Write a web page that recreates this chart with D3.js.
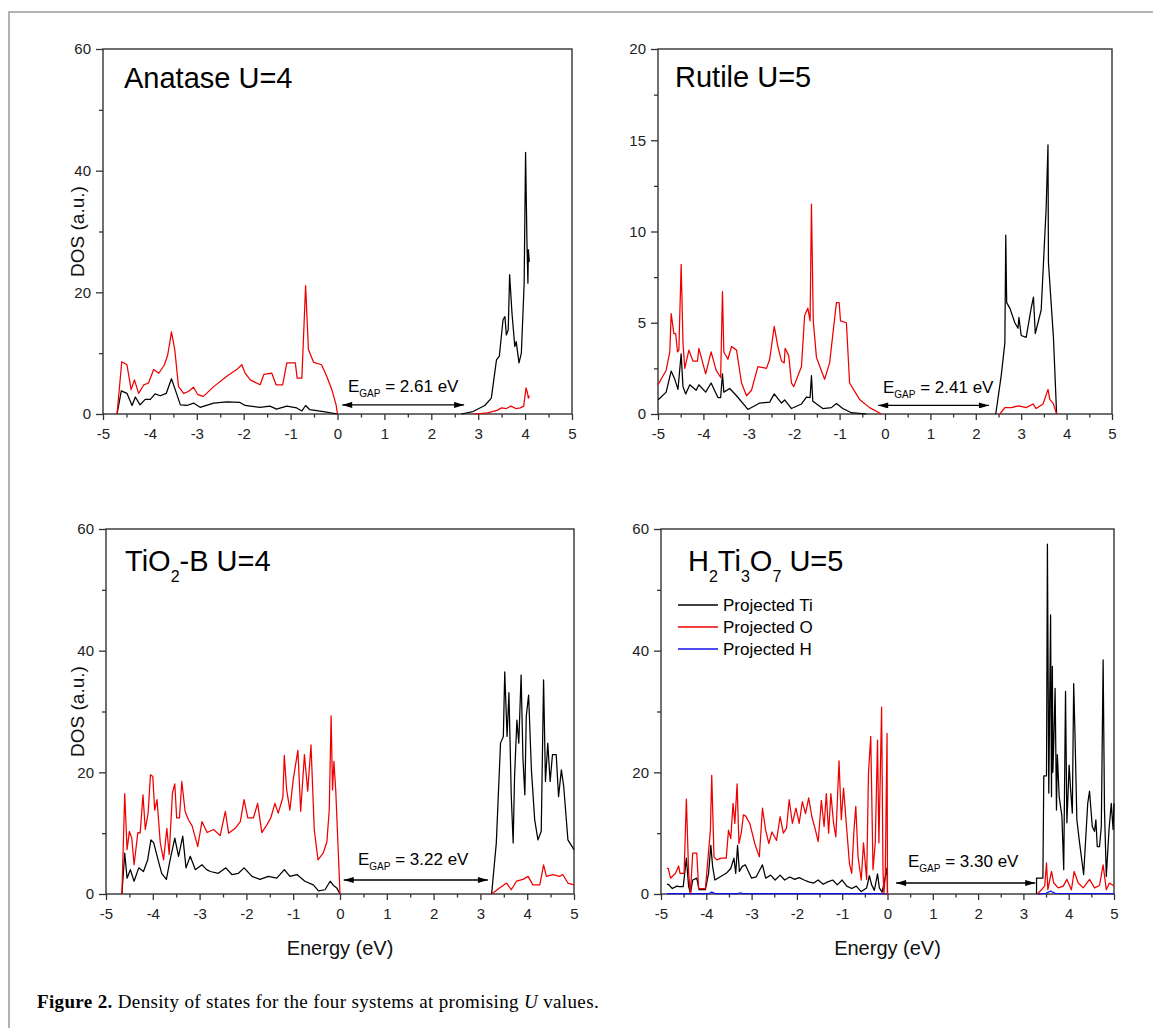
<!DOCTYPE html>
<html><head><meta charset="utf-8">
<script src="https://cdn.jsdelivr.net/npm/d3@7/dist/d3.min.js"></script>
<style>body{margin:0;background:#fff}svg{display:block}</style>
</head><body>
<svg id="c" width="1153" height="1028"></svg>
<script>
// ---------------- DATA ----------------
const xTicks = [-5,-4,-3,-2,-1,0,1,2,3,4,5];
const xMinor = [-4.5,-3.5,-2.5,-1.5,-0.5,0.5,1.5,2.5,3.5,4.5];
const yTicks60 = [0,20,40,60], yMinor60 = [10,30,50];
const yTicks20 = [0,5,10,15,20], yMinor20 = [2.5,7.5,12.5,17.5];

const panelTitles = [
  [["Anatase U=4",0]],
  [["Rutile U=5",0]],
  [["TiO",0],["2",1],["-B U=4",0]],
  [["H",0],["2",1],["Ti",0],["3",1],["O",0],["7",1],[" U=5",0]]
];
const gapValues = ["2.61","2.41","3.22","3.30"];
// arrow [from, to, at DOS]
const gapArrows = [[0.1,2.7,1.5],[-0.15,2.29,0.47],[0.08,3.16,2.3],[0.19,3.26,1.8]];
const yMaxes = [60,20,60,60];
const legendLabels = ["Projected Ti","Projected O","Projected H"];

// Anatase U=4
const anataseTiVB = [[-4.70,0],[-4.61,3.8],[-4.49,3.4],[-4.38,1.4],[-4.31,2.8],[-4.21,1.5],[-4.10,2.4],[-3.99,2.4],[-3.89,3.3],[-3.78,3.0],[-3.65,3.4],[-3.54,5.8],[-3.46,4.0],[-3.35,1.5],[-3.21,1.4],[-3.07,1.8],[-2.93,1.1],[-2.64,1.8],[-2.36,2.0],[-2.08,1.9],[-1.97,1.4],[-1.65,1.1],[-1.44,1.3],[-1.30,0.8],[-1.08,1.3],[-0.87,1.0],[-0.76,0.5],[-0.68,1.4],[-0.59,0.7],[-0.30,0.4],[0,0]];
const anataseOVB = [[-4.70,0],[-4.60,8.6],[-4.49,8.1],[-4.40,4.0],[-4.33,5.6],[-4.24,3.4],[-4.13,4.8],[-4.03,5.1],[-3.92,7.3],[-3.81,6.7],[-3.69,8.1],[-3.62,9.7],[-3.54,13.5],[-3.47,10.6],[-3.39,4.5],[-3.28,3.4],[-3.18,3.7],[-3.07,4.4],[-2.98,3.2],[-2.86,2.9],[-2.64,4.5],[-2.36,6.2],[-2.15,7.3],[-2.04,8.1],[-1.97,6.7],[-1.86,5.6],[-1.65,4.8],[-1.57,6.5],[-1.40,6.7],[-1.31,4.8],[-1.17,4.8],[-1.08,8.4],[-0.90,8.4],[-0.86,5.9],[-0.76,5.9],[-0.68,21.1],[-0.62,10.6],[-0.51,8.5],[-0.34,8.1],[-0.23,6.2],[-0.12,4.0],[-0.03,1.5],[0,0]];
const anataseTiCB = [[2.64,0],[2.89,0.4],[3.14,1.4],[3.28,2.6],[3.39,8.9],[3.45,9.5],[3.53,15.5],[3.57,16.0],[3.60,13.0],[3.64,13.8],[3.67,22.9],[3.72,16.6],[3.78,11.1],[3.81,11.9],[3.87,8.4],[3.92,10.0],[3.98,21.5],[4.01,43.0],[4.04,28.0],[4.06,21.5],[4.07,27.0],[4.09,25.0]];
const anataseOCB = [[2.90,0],[3.20,0.2],[3.40,0.6],[3.50,1.0],[3.60,0.9],[3.70,1.3],[3.80,0.9],[3.90,1.0],[3.97,1.3],[4.02,4.3],[4.05,3.5],[4.07,2.6],[4.09,3.0]];

// Rutile U=5
const rutileTiVB = [[-5.0,0.77],[-4.82,1.2],[-4.71,2.35],[-4.63,1.9],[-4.56,1.35],[-4.49,3.3],[-4.45,1.5],[-4.39,1.1],[-4.30,1.6],[-4.16,1.3],[-4.10,1.6],[-3.95,1.2],[-3.83,1.7],[-3.68,0.9],[-3.62,0.9],[-3.58,2.2],[-3.55,1.2],[-3.42,1.4],[-3.27,1.0],[-3.02,0.25],[-2.76,0.6],[-2.54,0.65],[-2.44,1.1],[-2.28,0.6],[-2.21,0.77],[-2.06,0.3],[-1.84,0.55],[-1.73,0.93],[-1.65,0.9],[-1.62,2.1],[-1.59,0.7],[-1.37,0.3],[-1.18,0.35],[-1.07,0.57],[-0.93,0.3],[-0.74,0.07],[-0.41,0]];
const rutileOVB = [[-5.0,1.6],[-4.82,2.4],[-4.74,3.4],[-4.71,5.5],[-4.65,4.4],[-4.61,4.4],[-4.57,3.4],[-4.54,3.5],[-4.49,8.2],[-4.45,3.9],[-4.41,2.5],[-4.32,3.5],[-4.23,2.9],[-4.13,2.9],[-4.10,3.6],[-3.95,2.2],[-3.83,3.4],[-3.72,2.4],[-3.62,2.0],[-3.58,6.7],[-3.55,3.4],[-3.46,3.0],[-3.38,3.7],[-3.27,3.5],[-3.16,1.7],[-3.05,1.0],[-2.94,1.3],[-2.80,2.6],[-2.61,2.5],[-2.54,3.0],[-2.44,4.8],[-2.36,3.7],[-2.28,2.9],[-2.22,2.8],[-2.20,3.6],[-2.12,3.2],[-2.06,1.7],[-2.01,1.5],[-1.84,2.6],[-1.77,5.4],[-1.70,5.8],[-1.65,5.1],[-1.62,11.5],[-1.58,5.1],[-1.51,3.1],[-1.33,1.9],[-1.22,2.8],[-1.07,6.1],[-1.01,6.1],[-0.98,5.1],[-0.85,5.0],[-0.78,1.7],[-0.56,0.8],[-0.34,0.35],[-0.08,0]];
const rutileTiCB = [[2.44,0],[2.56,2.1],[2.64,3.9],[2.66,9.8],[2.68,6.1],[2.75,5.8],[2.86,5.0],[2.93,4.7],[2.95,5.3],[3.00,4.3],[3.11,4.2],[3.22,5.8],[3.27,6.4],[3.31,4.4],[3.44,5.7],[3.55,11.3],[3.59,14.75],[3.60,8.3],[3.71,4.2],[3.78,0]];
const rutileOCB = [[2.53,0],[2.64,0.35],[2.78,0.35],[2.95,0.45],[3.11,0.35],[3.26,0.55],[3.33,0.3],[3.48,0.55],[3.59,1.35],[3.63,0.8],[3.71,0.55],[3.78,0]];

// TiO2-B U=4
const tio2bTiVB = [[-4.66,0],[-4.60,6.7],[-4.55,2.6],[-4.48,4.0],[-4.40,2.1],[-4.30,4.3],[-4.20,3.7],[-4.11,5.6],[-4.04,8.9],[-3.98,8.4],[-3.88,5.4],[-3.81,3.4],[-3.71,2.4],[-3.63,5.6],[-3.53,9.2],[-3.45,6.2],[-3.36,9.5],[-3.29,4.3],[-3.20,6.2],[-3.09,4.0],[-2.95,4.8],[-2.85,4.0],[-2.77,3.7],[-2.60,3.4],[-2.44,4.3],[-2.31,3.2],[-2.17,3.4],[-2.05,4.3],[-1.88,2.9],[-1.71,2.4],[-1.53,2.9],[-1.35,2.6],[-1.19,4.0],[-1.07,2.9],[-0.92,3.2],[-0.75,2.1],[-0.57,1.5],[-0.46,0.5],[-0.32,0.7],[-0.21,2.1],[-0.14,1.4],[-0.07,1.0],[0,0]];
const tio2bOVB = [[-4.66,0],[-4.60,16.5],[-4.55,7.3],[-4.50,10.3],[-4.45,9.2],[-4.40,4.8],[-4.32,10.1],[-4.27,10.0],[-4.21,16.3],[-4.16,10.6],[-4.10,13.3],[-4.05,19.6],[-4.00,19.3],[-3.96,13.8],[-3.91,15.5],[-3.84,8.4],[-3.77,5.6],[-3.70,10.8],[-3.65,6.5],[-3.58,16.6],[-3.53,18.1],[-3.49,12.5],[-3.43,12.5],[-3.38,18.5],[-3.31,13.6],[-3.24,12.2],[-3.16,11.2],[-3.04,7.8],[-2.95,11.9],[-2.84,10.1],[-2.70,10.6],[-2.56,9.6],[-2.45,13.6],[-2.38,10.0],[-2.24,10.8],[-2.13,11.9],[-2.05,15.5],[-1.97,12.5],[-1.85,12.5],[-1.76,14.9],[-1.67,10.1],[-1.56,11.4],[-1.48,12.5],[-1.39,14.9],[-1.32,13.3],[-1.22,15.9],[-1.19,22.8],[-1.14,17.1],[-1.07,13.8],[-1.00,18.8],[-0.90,23.6],[-0.84,13.6],[-0.76,22.9],[-0.69,16.9],[-0.62,24.5],[-0.55,10.6],[-0.47,5.6],[-0.36,6.7],[-0.28,8.6],[-0.23,13.8],[-0.19,29.3],[-0.16,17.1],[-0.13,21.8],[-0.09,16.9],[0,0]];
const tio2bTiCB = [[3.24,0],[3.34,8.4],[3.43,24.8],[3.49,25.9],[3.52,36.5],[3.57,25.9],[3.61,33.1],[3.66,16.0],[3.70,8.4],[3.73,19.3],[3.78,28.6],[3.82,24.8],[3.87,36.0],[3.91,22.1],[3.95,16.3],[3.98,29.2],[4.03,32.7],[4.09,20.4],[4.16,12.2],[4.23,8.9],[4.30,10.3],[4.35,35.2],[4.39,18.5],[4.44,24.8],[4.49,18.5],[4.54,22.9],[4.62,22.9],[4.67,16.0],[4.73,20.4],[4.78,17.7],[4.87,8.9],[5.0,7.3]];
const tio2bOCB = [[3.24,0],[3.41,1.0],[3.56,1.8],[3.66,0.7],[3.77,2.1],[3.91,2.4],[4.02,2.9],[4.12,1.5],[4.27,1.5],[4.35,4.8],[4.41,2.9],[4.55,3.2],[4.69,2.9],[4.76,3.2],[4.87,1.8],[5.0,1.5]];

// H2Ti3O7 U=5
const h2tiTiVB = [[-4.87,1.6],[-4.84,1.6],[-4.75,0.9],[-4.65,1.3],[-4.60,1.2],[-4.51,1.2],[-4.44,5.9],[-4.39,1.2],[-4.35,0.1],[-4.30,2.3],[-4.21,2.6],[-4.16,0.7],[-4.02,0.7],[-3.95,3.4],[-3.90,8.0],[-3.86,4.5],[-3.81,2.3],[-3.70,2.8],[-3.56,3.4],[-3.46,4.2],[-3.39,5.9],[-3.35,3.4],[-3.31,8.0],[-3.27,3.7],[-3.21,4.5],[-3.14,4.8],[-3.07,3.7],[-3.00,2.6],[-2.90,2.8],[-2.76,4.8],[-2.69,2.6],[-2.58,3.1],[-2.48,2.3],[-2.37,3.1],[-2.27,2.3],[-2.16,2.8],[-2.05,2.4],[-1.95,2.7],[-1.84,2.3],[-1.74,2.0],[-1.63,1.8],[-1.53,2.3],[-1.42,1.6],[-1.32,2.0],[-1.21,2.3],[-1.11,1.5],[-1.00,2.3],[-0.90,1.3],[-0.79,0.9],[-0.69,1.3],[-0.58,0.4],[-0.46,1.0],[-0.40,3.0],[-0.35,1.5],[-0.29,0.6],[-0.22,3.3],[-0.18,1.0],[-0.12,0.3],[-0.07,2.0],[-0.01,4.3],[0,0]];
const h2tiOVB = [[-4.87,4.2],[-4.84,4.2],[-4.79,2.6],[-4.68,3.4],[-4.61,4.6],[-4.58,3.4],[-4.49,3.4],[-4.44,15.6],[-4.39,3.4],[-4.35,0.1],[-4.30,6.7],[-4.21,6.7],[-4.17,0.9],[-4.02,0.9],[-3.96,6.1],[-3.91,10.5],[-3.88,19.5],[-3.83,6.1],[-3.77,5.6],[-3.67,5.9],[-3.56,5.9],[-3.51,10.5],[-3.46,9.1],[-3.41,14.9],[-3.37,11.6],[-3.32,18.1],[-3.28,8.3],[-3.23,10.0],[-3.18,13.0],[-3.13,12.8],[-3.04,11.6],[-2.93,8.3],[-2.83,6.1],[-2.76,14.1],[-2.69,10.5],[-2.62,8.3],[-2.55,10.2],[-2.45,8.8],[-2.37,12.7],[-2.30,10.0],[-2.23,10.8],[-2.17,15.5],[-2.10,11.6],[-2.02,14.1],[-1.95,11.6],[-1.88,15.2],[-1.81,13.2],[-1.74,15.8],[-1.67,12.7],[-1.60,10.8],[-1.53,8.6],[-1.46,15.4],[-1.40,11.1],[-1.35,16.5],[-1.30,10.0],[-1.25,16.5],[-1.19,11.6],[-1.14,9.4],[-1.07,21.9],[-1.02,12.2],[-0.97,17.4],[-0.91,11.6],[-0.84,5.0],[-0.79,3.4],[-0.74,10.5],[-0.70,14.4],[-0.65,6.1],[-0.58,2.3],[-0.53,8.4],[-0.46,2.4],[-0.42,19.9],[-0.37,25.9],[-0.32,4.0],[-0.27,8.4],[-0.22,25.3],[-0.19,8.4],[-0.16,19.3],[-0.13,30.7],[-0.10,4.0],[-0.08,0],[-0.05,2.9],[-0.01,26.4],[0,0]];
const h2tiHVB = [[-4.87,0.05],[-3.95,0.05],[-3.88,0.3],[-3.80,0.05],[-3.30,0.05],[-3.25,0.2],[-3.20,0.05],[-0.10,0.05],[0,0]];
const h2tiTiCB = [[3.29,0],[3.29,2.6],[3.43,2.6],[3.45,19.4],[3.51,19.4],[3.53,57.5],[3.56,16.6],[3.60,45.9],[3.62,16.0],[3.63,30.0],[3.64,37.4],[3.65,20.0],[3.67,24.8],[3.70,33.8],[3.73,13.8],[3.75,22.9],[3.79,16.0],[3.85,12.8],[3.89,4.0],[3.93,33.3],[3.96,11.7],[4.01,21.2],[4.04,17.4],[4.08,13.3],[4.11,34.6],[4.14,25.9],[4.18,12.2],[4.24,8.4],[4.33,3.2],[4.42,14.9],[4.46,16.9],[4.52,11.1],[4.57,10.3],[4.60,12.2],[4.63,7.8],[4.68,7.8],[4.72,11.1],[4.76,38.5],[4.79,13.8],[4.83,2.9],[4.89,10.6],[4.94,14.9],[4.98,10.6],[5.0,14.9]];
const h2tiOCB = [[3.31,0],[3.47,1.3],[3.51,5.1],[3.54,0.7],[3.62,3.7],[3.67,1.8],[3.77,1.0],[3.88,1.3],[3.96,2.4],[4.06,0.7],[4.12,3.7],[4.21,1.8],[4.32,1.0],[4.46,2.4],[4.57,1.0],[4.68,1.4],[4.76,4.8],[4.83,0.7],[4.90,1.8],[5.0,1.3]];
const h2tiHCB = [[3.31,0],[3.50,0.1],[3.60,0.5],[3.70,0.1],[5.0,0.05]];

// ---------------- LAYOUT / STYLE ----------------
const COL = {Ti:"#000000", O:"#ee0000", H:"#1010ee"};
const FONT = "'Liberation Sans', Arial, sans-serif";
const panels = [
  {box:[103,49,572,414], ticks:yTicks60, minor:yMinor60, title:[124,88], gap:[348,392], ylab:true, xlab:false,
   series:[[anataseTiVB,"Ti"],[anataseTiCB,"Ti"],[anataseOVB,"O"],[anataseOCB,"O"]]},
  {box:[658,49,1112,414], ticks:yTicks20, minor:yMinor20, title:[675,87], gap:[883,393], ylab:false, xlab:false,
   series:[[rutileTiVB,"Ti"],[rutileTiCB,"Ti"],[rutileOVB,"O"],[rutileOCB,"O"]]},
  {box:[106,529,574,894], ticks:yTicks60, minor:yMinor60, title:[125,571], gap:[358,865], ylab:true, xlab:true,
   series:[[tio2bTiVB,"Ti"],[tio2bTiCB,"Ti"],[tio2bOVB,"O"],[tio2bOCB,"O"]]},
  {box:[661,529,1114,894], ticks:yTicks60, minor:yMinor60, title:[688,571], gap:[908,867], ylab:false, xlab:true, legend:true,
   series:[[h2tiHVB,"H"],[h2tiHCB,"H"],[h2tiTiVB,"Ti"],[h2tiTiCB,"Ti"],[h2tiOVB,"O"],[h2tiOCB,"O"]]}
];

const svg = d3.select("#c");
const defs = svg.append("defs");
defs.append("marker").attr("id","ah").attr("viewBox","0 0 10 6").attr("refX",10).attr("refY",3)
  .attr("markerWidth",11).attr("markerHeight",6).attr("markerUnits","userSpaceOnUse").attr("orient","auto-start-reverse")
  .append("path").attr("d","M0,0L10,3L0,6Z").attr("fill","#000");

// figure frame
svg.append("path").attr("d","M9,1028V12H1153").attr("fill","none").attr("stroke","#9a9a9a").attr("stroke-width",1.5);

panels.forEach((p,i)=>{
  const [x0,y0,x1,y1] = p.box;
  const x = d3.scaleLinear().domain([-5,5]).range([x0,x1]);
  const y = d3.scaleLinear().domain([0,yMaxes[i]]).range([y1,y0]);
  const g = svg.append("g");

  const styleAxis = sel => {
    sel.select(".domain").remove();
    sel.selectAll(".tick line").attr("stroke","#333").attr("stroke-width",1.3);
    sel.selectAll(".tick text").attr("font-family",FONT).attr("font-size",15).attr("fill","#222");
  };
  g.append("g").attr("transform",`translate(0,${y1})`)
    .call(d3.axisBottom(x).tickValues(xTicks).tickFormat(d=>String(d)).tickSize(6).tickSizeOuter(0).tickPadding(8)).call(styleAxis);
  g.append("g").attr("transform",`translate(0,${y1})`)
    .call(d3.axisBottom(x).tickValues(xMinor).tickFormat("").tickSize(3.5).tickSizeOuter(0)).call(styleAxis);
  g.append("g").attr("transform",`translate(${x0},0)`)
    .call(d3.axisLeft(y).tickValues(p.ticks).tickFormat(d=>String(d)).tickSize(7).tickSizeOuter(0).tickPadding(5)).call(styleAxis);
  g.append("g").attr("transform",`translate(${x0},0)`)
    .call(d3.axisLeft(y).tickValues(p.minor).tickFormat("").tickSize(4).tickSizeOuter(0)).call(styleAxis);
  g.append("rect").attr("x",x0).attr("y",y0).attr("width",x1-x0).attr("height",y1-y0)
    .attr("fill","none").attr("stroke","#333").attr("stroke-width",1.4);

  const line = d3.line().x(d=>x(d[0])).y(d=>y(d[1]));
  p.series.forEach(([data,kind])=>{
    g.append("path").datum(data).attr("d",line).attr("fill","none")
      .attr("stroke",COL[kind]).attr("stroke-width",1.25).attr("stroke-linejoin","round");
  });

  const t = g.append("text").attr("x",p.title[0]).attr("y",p.title[1])
    .attr("font-family",FONT).attr("font-size",29).attr("fill","#000");
  let sub = 0;
  panelTitles[i].forEach(([s,isSub])=>{
    const dy = isSub ? (sub?0:11) : (sub?-11:0);
    t.append("tspan").attr("dy",dy).attr("font-size",isSub?16:29).text(s);
    sub = isSub;
  });

  const gt = g.append("text").attr("x",p.gap[0]).attr("y",p.gap[1])
    .attr("font-family",FONT).attr("font-size",17).attr("fill","#000");
  gt.append("tspan").text("E");
  gt.append("tspan").attr("font-size",10).attr("dy",5).text("GAP");
  gt.append("tspan").attr("dy",-5).text(" = " + gapValues[i] + " eV");
  const a = gapArrows[i];
  g.append("line").attr("x1",x(a[0])).attr("x2",x(a[1])).attr("y1",y(a[2])).attr("y2",y(a[2]))
    .attr("stroke","#000").attr("stroke-width",1.4)
    .attr("marker-start","url(#ah)").attr("marker-end","url(#ah)");

  if (p.ylab) {
    g.append("text").attr("transform",`translate(84,${(y0+y1)/2}) rotate(-90)`)
      .attr("text-anchor","middle").attr("font-family",FONT).attr("font-size",19).attr("fill","#111").text("DOS (a.u.)");
  }
  if (p.xlab) {
    g.append("text").attr("x",(x0+x1)/2).attr("y",955).attr("text-anchor","middle")
      .attr("font-family",FONT).attr("font-size",20).attr("fill","#111").text("Energy (eV)");
  }
  if (p.legend) {
    const kinds = ["Ti","O","H"];
    legendLabels.forEach((lab,k)=>{
      const ly = 605 + k*22;
      g.append("line").attr("x1",678).attr("x2",718).attr("y1",ly).attr("y2",ly)
        .attr("stroke",COL[kinds[k]]).attr("stroke-width",1.3);
      g.append("text").attr("x",723).attr("y",ly).attr("dy","0.36em")
        .attr("font-family",FONT).attr("font-size",17).attr("fill","#000").text(lab);
    });
  }
});

// caption
const cap = svg.append("text").attr("x",37).attr("y",1008)
  .attr("font-family","'Liberation Serif', 'Times New Roman', serif").attr("font-size",19).attr("fill","#000");
cap.append("tspan").attr("font-weight","bold").text("Figure 2.");
cap.append("tspan").text(" Density of states for the four systems at promising ");
cap.append("tspan").attr("font-style","italic").text("U");
cap.append("tspan").text(" values.");
const target = 562, nat = cap.node().getComputedTextLength();
const nchars = cap.text().length;
cap.attr("letter-spacing", ((target-nat)/nchars).toFixed(3));
</script>
</body></html>
